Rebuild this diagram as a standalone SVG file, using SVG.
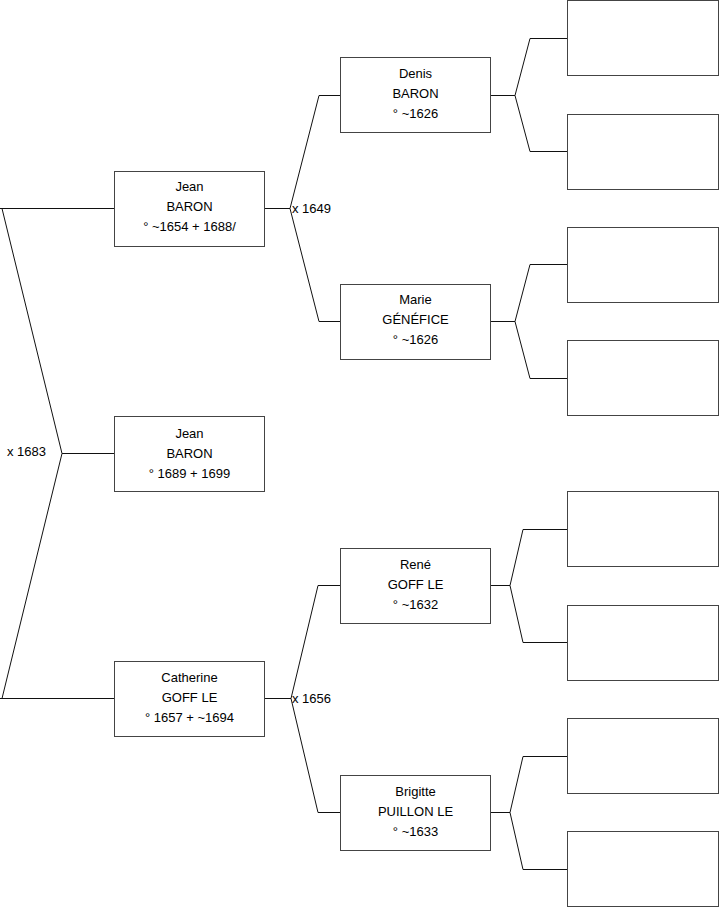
<svg xmlns="http://www.w3.org/2000/svg" width="719" height="908" viewBox="0 0 719 908">
<style>
.box{fill:#fff;stroke:#444;stroke-width:1}
.ln{fill:none;stroke:#111;stroke-width:1}
text{font-family:"Liberation Sans",Arial,sans-serif;font-size:13px;fill:#000}
.c{text-anchor:middle}
</style>
<rect width="719" height="908" fill="#fff"/>
<g id="connectors">
<polyline class="ln" points="114,208.5 0,208.5"/>
<polyline class="ln" points="2,208.5 62,453.5 2,698.5"/>
<polyline class="ln" points="0,698.5 114,698.5"/>
<polyline class="ln" points="62,453.5 114,453.5"/>
<polyline class="ln" points="265,208.5 290,208.5"/>
<polyline class="ln" points="340,95.5 319,95.5 290,208.5 319,321.5 340,321.5"/>
<polyline class="ln" points="265,698.5 291,698.5"/>
<polyline class="ln" points="340,585.5 318,585.5 291,698.5 318,812.5 340,812.5"/>
<polyline class="ln" points="491,95.5 515,95.5"/>
<polyline class="ln" points="567,38.5 530,38.5 515,95.5 530,151.5 567,151.5"/>
<polyline class="ln" points="491,321.5 515,321.5"/>
<polyline class="ln" points="567,264.5 530,264.5 515,321.5 530,378.5 567,378.5"/>
<polyline class="ln" points="491,585.5 510,585.5"/>
<polyline class="ln" points="567,529.5 523,529.5 510,585.5 523,642.5 567,642.5"/>
<polyline class="ln" points="491,812.5 510,812.5"/>
<polyline class="ln" points="567,756.5 523,756.5 510,812.5 523,869.5 567,869.5"/>
<text x="292" y="212.5">x 1649</text>
<text x="292" y="702.5">x 1656</text>
<text x="46" y="455.5" text-anchor="end">x 1683</text>
</g>
<g id="n-jean-1689">
<rect class="box" x="114.5" y="416.5" width="150" height="75"/>
<text class="c" x="189.5" y="437.5">Jean</text>
<text class="c" x="189.5" y="457.5">BARON</text>
<text class="c" x="189.5" y="477.5">° 1689 + 1699</text>
</g>
<g id="n-jean-1654">
<rect class="box" x="114.5" y="171.5" width="150" height="75"/>
<text class="c" x="189.5" y="190.5">Jean</text>
<text class="c" x="189.5" y="210.5">BARON</text>
<text class="c" x="189.5" y="230.5">° ~1654 + 1688/</text>
</g>
<g id="n-catherine">
<rect class="box" x="114.5" y="661.5" width="150" height="75"/>
<text class="c" x="189.5" y="681.5">Catherine</text>
<text class="c" x="189.5" y="701.5">GOFF LE</text>
<text class="c" x="189.5" y="721.5">° 1657 + ~1694</text>
</g>
<g id="n-denis">
<rect class="box" x="340.5" y="57.5" width="150" height="75"/>
<text class="c" x="415.5" y="77.5">Denis</text>
<text class="c" x="415.5" y="97.5">BARON</text>
<text class="c" x="415.5" y="117.5">° ~1626</text>
</g>
<g id="n-marie">
<rect class="box" x="340.5" y="284.5" width="150" height="75"/>
<text class="c" x="415.5" y="303.5">Marie</text>
<text class="c" x="415.5" y="323.5">GÉNÉFICE</text>
<text class="c" x="415.5" y="343.5">° ~1626</text>
</g>
<g id="n-rene">
<rect class="box" x="340.5" y="548.5" width="150" height="75"/>
<text class="c" x="415.5" y="568.5">René</text>
<text class="c" x="415.5" y="588.5">GOFF LE</text>
<text class="c" x="415.5" y="608.5">° ~1632</text>
</g>
<g id="n-brigitte">
<rect class="box" x="340.5" y="775.5" width="150" height="75"/>
<text class="c" x="415.5" y="795.5">Brigitte</text>
<text class="c" x="415.5" y="815.5">PUILLON LE</text>
<text class="c" x="415.5" y="835.5">° ~1633</text>
</g>
<g id="n-g4-1"><rect class="box" x="567.5" y="0.5" width="151" height="75"/></g>
<g id="n-g4-2"><rect class="box" x="567.5" y="114.5" width="151" height="75"/></g>
<g id="n-g4-3"><rect class="box" x="567.5" y="227.5" width="151" height="75"/></g>
<g id="n-g4-4"><rect class="box" x="567.5" y="340.5" width="151" height="75"/></g>
<g id="n-g4-5"><rect class="box" x="567.5" y="491.5" width="151" height="75"/></g>
<g id="n-g4-6"><rect class="box" x="567.5" y="605.5" width="151" height="75"/></g>
<g id="n-g4-7"><rect class="box" x="567.5" y="718.5" width="151" height="75"/></g>
<g id="n-g4-8"><rect class="box" x="567.5" y="831.5" width="151" height="75"/></g>
</svg>
